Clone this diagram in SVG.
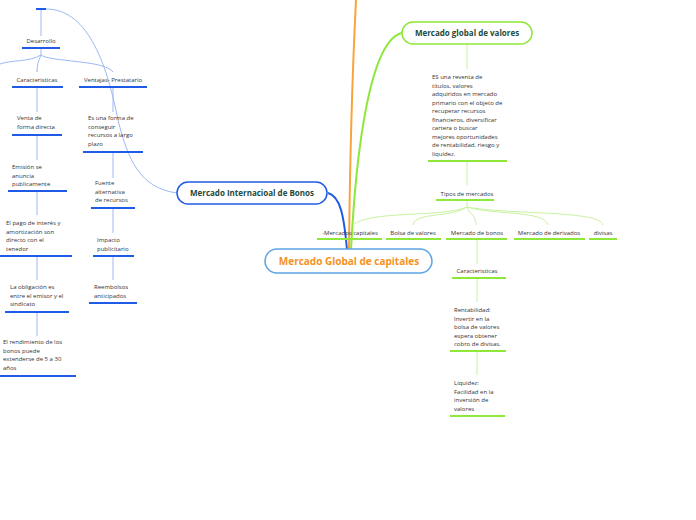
<svg xmlns="http://www.w3.org/2000/svg" width="696" height="520" viewBox="0 0 696 520">
<style>
text{font-family:"Open Sans","Noto Sans","DejaVu Sans",sans-serif;}
.s{font-size:6px;fill:#333333;}
.c{text-anchor:middle;}
.ub{stroke:#1f5be6;stroke-width:2;fill:none;}
.ug{stroke:#8de83a;stroke-width:2;fill:none;}
.lb{stroke:#9cb9f3;stroke-width:1;fill:none;}
.lg{stroke:#c9f2a2;stroke-width:1;fill:none;}
.t{font-size:8px;font-weight:bold;fill:#1d4a3b;text-anchor:middle;}
</style>
<rect width="696" height="520" fill="#ffffff"/>
<g id="connectors">
<path d="M328,193 C340,196 344,215 347,250" stroke="#1f5be6" stroke-width="2" fill="none"/>
<path d="M349,250 C350,150 353,60 356,0" stroke="#f9a43a" stroke-width="2" fill="none"/>
<path d="M351,250 C356,150 370,40 402,33" stroke="#8de83a" stroke-width="2" fill="none"/>
<path d="M177,193 C140,188 128,160 118,120 C108,70 90,9 46,9" class="lb"/>
<path d="M41,10 V36" class="lb"/>
<path d="M41,49 V55 C30,62 10,60 0,64" class="lb"/>
<path d="M41,55 C38,62 37,65 37,72" class="lb"/>
<path d="M41,55 C50,62 105,60 113,72" class="lb"/>
<path d="M37,88 V112 M37,136 V160 M37,192 V215 M37,257 V280 M37,313 V336" class="lb"/>
<path d="M113,88 V112 M113,153 V178 M113,209 V233 M113,257 V280" class="lb"/>
<path d="M467,44 V69 M467,162 V185 M467,201 V207" class="lg"/>
<path d="M467,207 C440,218 370,210 353,225" class="lg"/>
<path d="M467,207 C450,218 415,212 413,225" class="lg"/>
<path d="M467,207 C470,215 476,215 476,225" class="lg"/>
<path d="M467,207 C490,215 545,210 548,225" class="lg"/>
<path d="M467,207 C510,215 600,210 603,225" class="lg"/>
<path d="M477,240 V264 M477,279 V302 M477,352 V375" class="lg"/>
</g>
<g id="central">
<rect x="265" y="249" width="167" height="24" rx="12" fill="#ffffff" stroke="#5ca4e6" stroke-width="1.5"/>
<text x="349" y="265" font-size="10" font-weight="bold" fill="#f5921e" text-anchor="middle">Mercado Global de capitales</text>
</g>
<g id="bonos">
<rect x="177" y="182" width="150" height="22" rx="11" fill="#ffffff" stroke="#1f5be6" stroke-width="1.5"/>
<text x="252" y="196" class="t">Mercado Internacioal de Bonos</text>
</g>
<g id="valores">
<rect x="402" y="22" width="130" height="22" rx="11" fill="#ffffff" stroke="#8de83a" stroke-width="1.5"/>
<text x="467" y="36" class="t">Mercado global de valores</text>
</g>
<g id="top"><path d="M36,9 H46" class="ub"/></g>
<g id="desarrollo"><text x="41" y="43" class="s c">Desarrollo</text><path d="M22,48 H60" class="ub"/></g>
<g id="caract-l"><text x="37" y="82" class="s c">Caracteristicas</text><path d="M12,87 H63" class="ub"/></g>
<g id="ventajas"><text x="113" y="82" class="s c">Ventajas- Prestatario</text><path d="M79,87 H147" class="ub"/></g>
<g id="venta"><text class="s" x="17" y="120">Venta de<tspan x="17" dy="8.6">forma directa</tspan></text><path d="M12,135 H62" class="ub"/></g>
<g id="emision"><text class="s" x="12" y="169">Emisión se<tspan x="12" dy="8.6">anuncia</tspan><tspan x="12" dy="8.6">publicamente</tspan></text><path d="M8,191 H67" class="ub"/></g>
<g id="pago"><text class="s" x="6" y="225">El pago de interés y<tspan x="6" dy="8.6">amortización son</tspan><tspan x="6" dy="8.6">directo con el</tspan><tspan x="6" dy="8.6">tenedor</tspan></text><path d="M0,256 H72" class="ub"/></g>
<g id="obligacion"><text class="s" x="10" y="289">La obligación es<tspan x="10" dy="8.6">entre el emisor y el</tspan><tspan x="10" dy="8.6">sindicato</tspan></text><path d="M5,312 H69" class="ub"/></g>
<g id="rendimiento"><text class="s" x="3" y="344">El rendimiento de los<tspan x="3" dy="8.6">bonos puede</tspan><tspan x="3" dy="8.6">extenderse de 5 a 30</tspan><tspan x="3" dy="8.6">años</tspan></text><path d="M0,376 H76" class="ub"/></g>
<g id="forma"><text class="s" x="88" y="120">Es una forma de<tspan x="88" dy="8.6">conseguir</tspan><tspan x="88" dy="8.6">recursos a largo</tspan><tspan x="88" dy="8.6">plazo</tspan></text><path d="M83,152 H143" class="ub"/></g>
<g id="fuente"><text class="s" x="95" y="185">Fuente<tspan x="95" dy="8.6">alternativa</tspan><tspan x="95" dy="8.6">de recursos</tspan></text><path d="M91,208 H135" class="ub"/></g>
<g id="impacto"><text class="s" x="97" y="242">Impacto<tspan x="97" dy="8.6">publicitario</tspan></text><path d="M93,256 H134" class="ub"/></g>
<g id="reembolsos"><text class="s" x="94" y="289">Reembolsos<tspan x="94" dy="8.6">anticipados</tspan></text><path d="M89,303 H137" class="ub"/></g>
<g id="reventa"><text class="s" x="432" y="79">ES una reventa de<tspan x="432" dy="8.5">títulos, valores</tspan><tspan x="432" dy="8.5">adquiridos en mercado</tspan><tspan x="432" dy="8.5">primario con el objeto de</tspan><tspan x="432" dy="8.5">recuperar recursos</tspan><tspan x="432" dy="8.5">financieros, diversificar</tspan><tspan x="432" dy="8.5">cartera o buscar</tspan><tspan x="432" dy="8.5">mejores oportunidades</tspan><tspan x="432" dy="8.5">de rentabilidad, riesgo y</tspan><tspan x="432" dy="8.5">liquidez.</tspan></text><path d="M428,161 H507" class="ug"/></g>
<g id="tipos"><text x="467" y="196" class="s c">Tipos de mercados</text><path d="M436,200 H494" class="ug"/></g>
<g id="mcap"><text x="350" y="235" class="s c">-Mercados capitales</text><path d="M317,239 H382" class="ug"/></g>
<g id="bolsa"><text x="413" y="235" class="s c">Bolsa de valores</text><path d="M386,239 H441" class="ug"/></g>
<g id="mbonos"><text x="477" y="235" class="s c">Mercado de bonos</text><path d="M446,239 H507" class="ug"/></g>
<g id="derivados"><text x="549" y="235" class="s c">Mercado de derivados</text><path d="M514,239 H585" class="ug"/></g>
<g id="divisas"><text x="603" y="235" class="s c">divisas</text><path d="M589,239 H617" class="ug"/></g>
<g id="caract-r"><text x="477" y="273" class="s c">Caracteristicas</text><path d="M452,278 H506" class="ug"/></g>
<g id="rentabilidad"><text class="s" x="454" y="312">Rentabilidad:<tspan x="454" dy="8.5">Invertir en la</tspan><tspan x="454" dy="8.5">bolsa de valores</tspan><tspan x="454" dy="8.5">espera obtener</tspan><tspan x="454" dy="8.5">cobro de divisas.</tspan></text><path d="M450,351 H506" class="ug"/></g>
<g id="liquidez"><text class="s" x="454" y="385">Liquidez:<tspan x="454" dy="8.5">Facilidad en la</tspan><tspan x="454" dy="8.5">inversión de</tspan><tspan x="454" dy="8.5">valores</tspan></text><path d="M450,416 H505" class="ug"/></g>
</svg>
